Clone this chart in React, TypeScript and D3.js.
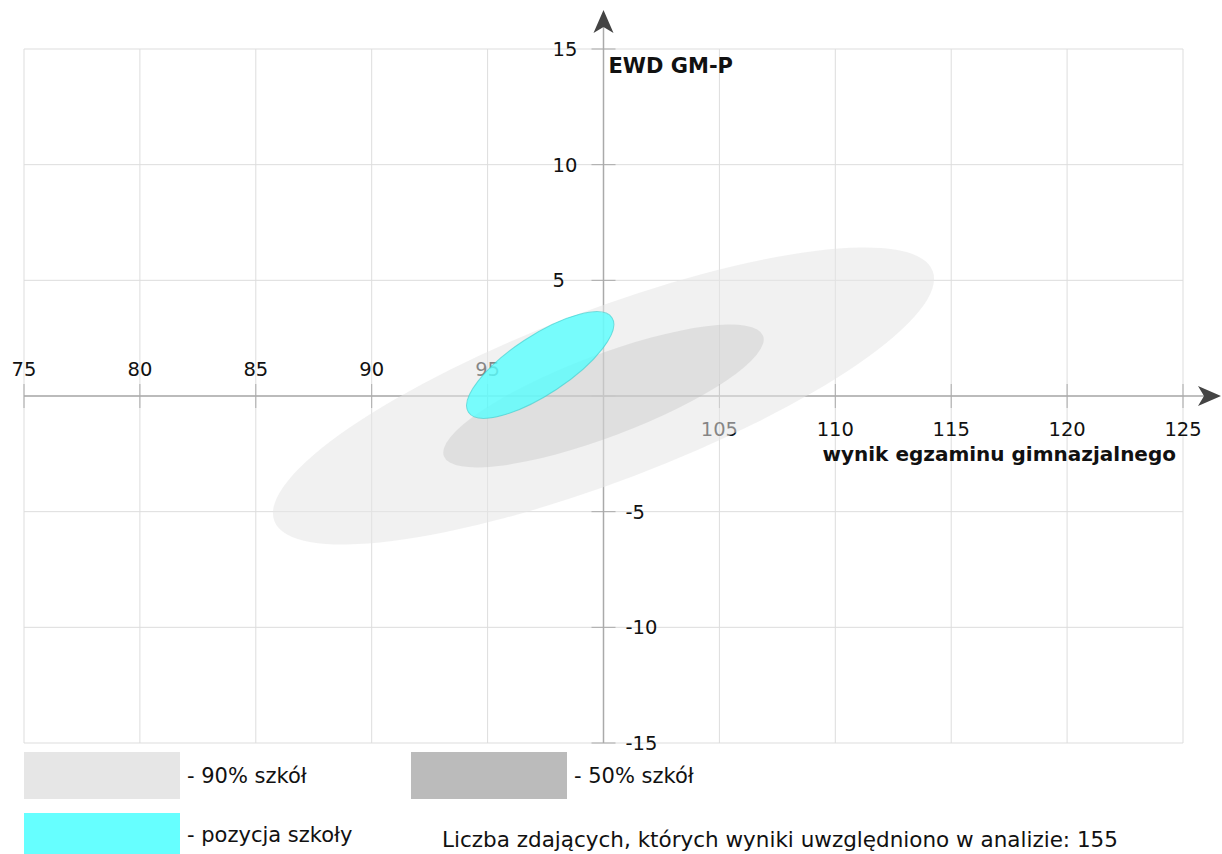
import React from 'react';
import * as d3 from 'd3';

const xTicks = [75, 80, 85, 90, 95, 100, 105, 110, 115, 120, 125];
const yTicks = [-15, -10, -5, 0, 5, 10, 15];

const ellipseNames = ['90% szkół', '50% szkół', 'pozycja szkoły'];
const ellipseCx = [100, 100, 97.27];
const ellipseCy = [0, 0, 1.34];
const ellipseRx = [15.19, 7.36, 3.71];
const ellipseRy = [3.7, 1.77, 1.27];
const ellipseAngle = [20.8, 20.7, 33.4];
const ellipseFill = ['#e6e6e6', '#bbbbbb', '#55ffff'];
const ellipseOpacity = [0.55, 0.32, 0.78];
const legendFill = ['#e6e6e6', '#bbbbbb', '#66ffff'];

const studentCount = 155;
const xTitle = 'wynik egzaminu gimnazjalnego';
const yTitle = 'EWD GM-P';

const W = 1222;
const H = 854;
const FONT = "'DejaVu Sans', sans-serif";

export default function App() {
  const x = d3.scaleLinear().domain([75, 125]).range([24, 1183]);
  const y = d3.scaleLinear().domain([-15, 15]).range([743, 49]);
  const x0 = x(100);
  const y0 = y(0);
  const gridColor = '#dddddd';
  const axisColor = '#aaaaaa';
  const arrowColor = '#444444';

  return (
    <svg
      width={W}
      height={H}
      style={{ position: 'absolute', left: 0, top: 0, background: '#fff' }}
      fontFamily={FONT}
    >
      <rect x={0} y={0} width={W} height={H} fill="#fff" />
      {/* grid */}
      {xTicks.map((t) => (
        <line key={'gx' + t} x1={x(t)} x2={x(t)} y1={y(15)} y2={y(-15)} stroke={gridColor} strokeWidth={1} />
      ))}
      {yTicks.map((t) => (
        <line key={'gy' + t} x1={x(75)} x2={x(125)} y1={y(t)} y2={y(t)} stroke={gridColor} strokeWidth={1} />
      ))}
      {/* axes */}
      <line x1={x(75)} x2={1205} y1={y0} y2={y0} stroke={axisColor} strokeWidth={1.5} />
      <line x1={x0} x2={x0} y1={y(-15)} y2={20} stroke={axisColor} strokeWidth={1.5} />
      {/* ticks */}
      {xTicks.map((t) => (
        <line key={'tx' + t} x1={x(t)} x2={x(t)} y1={y0 - 12} y2={y0 + 12} stroke={axisColor} strokeWidth={1} />
      ))}
      {yTicks.map((t) => (
        <line key={'ty' + t} x1={x0 - 12} x2={x0 + 12} y1={y(t)} y2={y(t)} stroke={axisColor} strokeWidth={1} />
      ))}
      {/* tick labels */}
      {xTicks
        .filter((t) => t !== 100)
        .map((t) => (
          <text
            key={'lx' + t}
            x={x(t)}
            y={t < 100 ? y0 - 20 : y0 + 40}
            textAnchor="middle"
            fontSize={19.5}
            fill="#111"
          >
            {t}
          </text>
        ))}
      {yTicks
        .filter((t) => t !== 0)
        .map((t) => (
          <text
            key={'ly' + t}
            x={t > 0 ? x0 - 51 : x0 + 22}
            y={y(t) + 7}
            textAnchor="start"
            fontSize={19.5}
            fill="#111"
          >
            {t}
          </text>
        ))}
      {/* axis titles */}
      <text x={x0 + 5} y={73} fontSize={21} fontWeight="bold" fill="#111">
        {yTitle}
      </text>
      <text x={1176} y={461} fontSize={20} fontWeight="bold" fill="#111" textAnchor="end">
        {xTitle}
      </text>
      {/* arrows */}
      <path
        d={`M${x0},10 L${x0 + 10},33 L${x0},27 L${x0 - 10},33 Z`}
        fill={arrowColor}
      />
      <path
        d={`M1221,${y0} L1198,${y0 + 10} L1204,${y0} L1198,${y0 - 10} Z`}
        fill={arrowColor}
      />
      {/* ellipses */}
      {ellipseNames.map((n, i) => {
        const cx = x(ellipseCx[i]);
        const cy = y(ellipseCy[i]);
        const rx = x(ellipseCx[i] + ellipseRx[i]) - cx;
        const ry = cy - y(ellipseCy[i] + ellipseRy[i]);
        return (
          <ellipse
            key={n}
            cx={cx}
            cy={cy}
            rx={rx}
            ry={ry}
            transform={`rotate(${-ellipseAngle[i]},${cx},${cy})`}
            fill={ellipseFill[i]}
            fillOpacity={ellipseOpacity[i]}
            stroke={i === 2 ? '#33cccc' : 'none'}
            strokeOpacity={0.6}
            strokeWidth={1}
          />
        );
      })}
      {/* legend */}
      <rect x={24} y={752} width={156} height={47} fill={legendFill[0]} />
      <text x={187} y={783} fontSize={21} fill="#111">{'- ' + ellipseNames[0]}</text>
      <rect x={411} y={752} width={156} height={47} fill={legendFill[1]} />
      <text x={574} y={783} fontSize={21} fill="#111">{'- ' + ellipseNames[1]}</text>
      <rect x={24} y={813} width={156} height={41} fill={legendFill[2]} />
      <text x={187} y={842} fontSize={21} fill="#111">{'- ' + ellipseNames[2]}</text>
      <text x={442} y={847} fontSize={21.5} fill="#111">
        {`Liczba zdających, których wyniki uwzględniono w analizie: ${studentCount}`}
      </text>
    </svg>
  );
}
